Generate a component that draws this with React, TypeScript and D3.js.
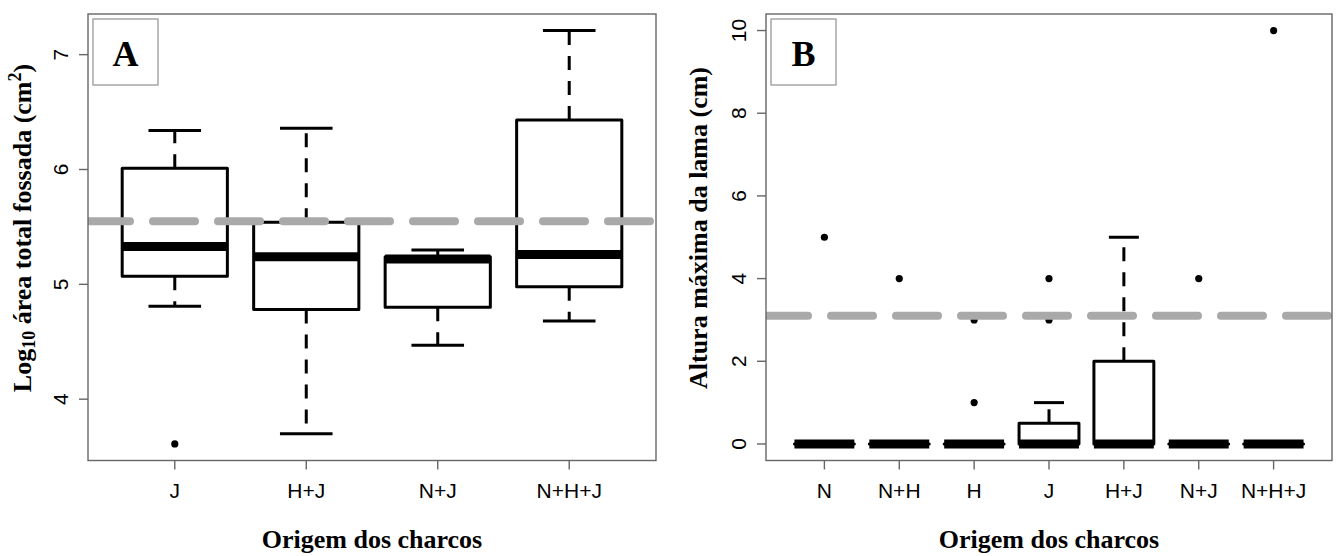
import React from 'react';
import * as d3 from 'd3';

// Panel A: Log10 área total fossada
const catsA = ['J', 'H+J', 'N+J', 'N+H+J'];
const lowA = [4.81, 3.70, 4.47, 4.68];
const q1A = [5.07, 4.78, 4.80, 4.98];
const medA = [5.33, 5.24, 5.22, 5.26];
const q3A = [6.01, 5.54, 5.24, 6.43];
const highA = [6.34, 6.36, 5.30, 7.21];
const outA: number[][] = [[3.61], [], [], []];
const meanA = 5.55;
const ticksA = [4, 5, 6, 7];

// Panel B: Altura máxima da lama
const catsB = ['N', 'N+H', 'H', 'J', 'H+J', 'N+J', 'N+H+J'];
const lowB = [0, 0, 0, 0, 0, 0, 0];
const q1B = [0, 0, 0, 0, 0, 0, 0];
const medB = [0, 0, 0, 0, 0, 0, 0];
const q3B = [0, 0, 0, 0.5, 2, 0, 0];
const highB = [0, 0, 0, 1, 5, 0, 0];
const outB: number[][] = [[5], [4], [3, 1], [4, 3], [], [4], [10]];
const meanB = 3.1;
const ticksB = [0, 2, 4, 6, 8, 10];

const SERIF = '"Liberation Serif", "Times New Roman", serif';
const SANS = '"Liberation Sans", Arial, sans-serif';
const BORDER = '#666';

interface PanelProps {
  left: number;
  right: number;
  top: number;
  bottom: number;
  cats: string[];
  low: number[];
  q1: number[];
  med: number[];
  q3: number[];
  high: number[];
  out: number[][];
  mean: number;
  ticks: number[];
  letter: string;
  yTitle: React.ReactNode;
}

const Panel: React.FC<PanelProps> = (p) => {
  const n = p.cats.length;
  const x = d3.scaleLinear()
    .domain([0.5 - 0.04 * n, n + 0.5 + 0.04 * n])
    .range([p.left, p.right]);

  // R style 4% axis extension
  const all = [...p.low, ...p.high, ...p.out.flat()];
  const lo = d3.min(all) ?? 0;
  const hi = d3.max(all) ?? 1;
  const pad = (hi - lo) * 0.04;
  const y = d3.scaleLinear().domain([lo - pad, hi + pad]).range([p.bottom, p.top]);

  const bw = (x(1.8) - x(1)) / 2; // half box width (boxwex 0.8)
  const sw = bw / 2; // half staple width
  const midX = (p.left + p.right) / 2;

  return (
    <g>
      <defs>
        <clipPath id={`clip-${p.letter}`}>
          <rect x={p.left} y={p.top} width={p.right - p.left} height={p.bottom - p.top} />
        </clipPath>
      </defs>

      {p.cats.map((c, i) => {
        const cx = x(i + 1);
        const yq1 = y(p.q1[i]);
        const yq3 = y(p.q3[i]);
        return (
          <g key={c}>
            {yq3 - y(p.high[i]) > 0.5 && (
              <line x1={cx} x2={cx} y1={yq3} y2={y(p.high[i])} stroke="#000" strokeWidth={3} strokeDasharray="14 11" />
            )}
            {y(p.low[i]) - yq1 > 0.5 && (
              <line x1={cx} x2={cx} y1={yq1} y2={y(p.low[i])} stroke="#000" strokeWidth={3} strokeDasharray="14 11" />
            )}
            <line x1={cx - sw} x2={cx + sw} y1={y(p.high[i])} y2={y(p.high[i])} stroke="#000" strokeWidth={3} />
            <line x1={cx - sw} x2={cx + sw} y1={y(p.low[i])} y2={y(p.low[i])} stroke="#000" strokeWidth={3} />
            <path
              d={`M${cx - bw},${yq1}H${cx + bw}V${yq3}H${cx - bw}Z`}
              fill="none"
              stroke="#000"
              strokeWidth={3}
              strokeLinejoin="round"
              strokeLinecap="round"
            />
            <line x1={cx - bw} x2={cx + bw} y1={y(p.med[i])} y2={y(p.med[i])} stroke="#000" strokeWidth={9} />
            {p.out[i].map((v, j) => (
              <circle key={j} cx={cx} cy={y(v)} r={3.6} fill="#000" />
            ))}
          </g>
        );
      })}

      {/* mean line */}
      <line
        x1={p.left}
        x2={p.right}
        y1={y(p.mean)}
        y2={y(p.mean)}
        stroke="#a9a9a9"
        strokeWidth={8}
        strokeLinecap="round"
        strokeDasharray="42 23"
        clipPath={`url(#clip-${p.letter})`}
      />

      {/* frame */}
      <rect x={p.left} y={p.top} width={p.right - p.left} height={p.bottom - p.top} fill="none" stroke={BORDER} strokeWidth={1.4} />

      {/* y axis */}
      {p.ticks.map((t) => (
        <g key={t}>
          <line x1={p.left - 9} x2={p.left} y1={y(t)} y2={y(t)} stroke={BORDER} strokeWidth={1.4} />
          <text
            transform={`translate(${p.left - 20},${y(t)}) rotate(-90)`}
            textAnchor="middle"
            fontFamily={SANS}
            fontSize={21}
            fill="#000"
          >
            {t}
          </text>
        </g>
      ))}

      {/* x axis */}
      {p.cats.map((c, i) => (
        <g key={c}>
          <line x1={x(i + 1)} x2={x(i + 1)} y1={p.bottom} y2={p.bottom + 9} stroke={BORDER} strokeWidth={1.4} />
          <text x={x(i + 1)} y={498} textAnchor="middle" fontFamily={SANS} fontSize={21} fill="#000">
            {c}
          </text>
        </g>
      ))}

      {/* letter box */}
      <rect x={p.left + 5} y={p.top + 5} width={65} height={66} fill="#fff" stroke="#999" strokeWidth={1.3} />
      <text x={p.left + 37.5} y={66} textAnchor="middle" fontFamily={SERIF} fontWeight="bold" fontSize={36}>
        {p.letter}
      </text>

      <text x={midX} y={548} textAnchor="middle" fontFamily={SERIF} fontWeight="bold" fontSize={26}>
        Origem dos charcos
      </text>
      {p.yTitle}
    </g>
  );
};

export default function App() {
  const titleA = (
    <text
      transform="translate(31,228) rotate(-90)"
      textAnchor="middle"
      fontFamily={SERIF}
      fontWeight="bold"
      fontSize={26}
    >
      Log<tspan fontSize={18} dy={4}>10</tspan>
      <tspan dy={-4}> área total fossada (cm</tspan>
      <tspan fontSize={18} dy={-10}>2</tspan>
      <tspan dy={10}>)</tspan>
    </text>
  );
  const titleB = (
    <text
      transform="translate(707,228) rotate(-90)"
      textAnchor="middle"
      fontFamily={SERIF}
      fontWeight="bold"
      fontSize={26}
    >
      Altura máxima da lama (cm)
    </text>
  );

  return (
    <div style={{ position: 'absolute', left: 0, top: 0 }}>
      <svg width={1336} height={556} style={{ display: 'block', background: '#fff' }}>
        <Panel
          left={88}
          right={656}
          top={14}
          bottom={460.5}
          cats={catsA}
          low={lowA}
          q1={q1A}
          med={medA}
          q3={q3A}
          high={highA}
          out={outA}
          mean={meanA}
          ticks={ticksA}
          letter="A"
          yTitle={titleA}
        />
        <Panel
          left={766}
          right={1332}
          top={14}
          bottom={460.5}
          cats={catsB}
          low={lowB}
          q1={q1B}
          med={medB}
          q3={q3B}
          high={highB}
          out={outB}
          mean={meanB}
          ticks={ticksB}
          letter="B"
          yTitle={titleB}
        />
      </svg>
    </div>
  );
}
